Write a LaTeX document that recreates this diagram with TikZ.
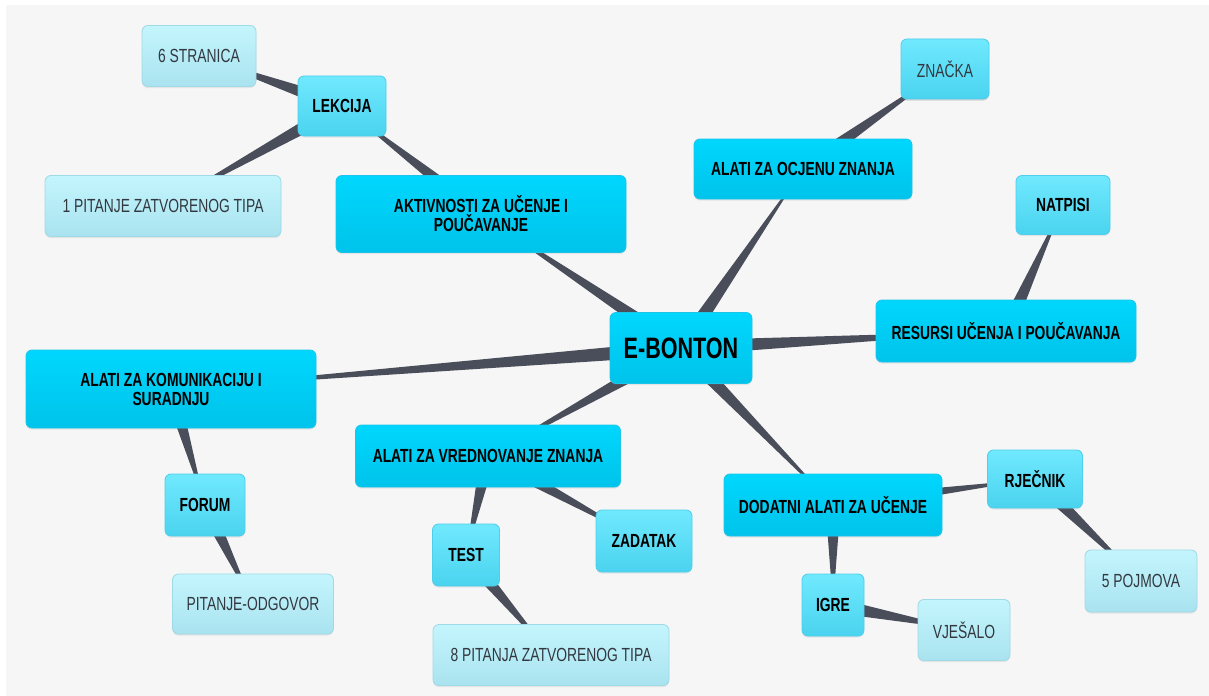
\documentclass[tikz,border=0pt]{standalone}
\usepackage{fontspec}
\setmainfont{Liberation Sans}[FakeStretch=0.73]
\usepackage{tikz}
\usetikzlibrary{
	backgrounds,									% pozadina i veze iza kutija
	calc,											% racun koordinata
	shadows,										% sjene kutija
}

\definecolor{hubtop}{HTML}{00D7FE}
\definecolor{hubbot}{HTML}{00C3EA}
\definecolor{hubline}{HTML}{1CC4EA}
\definecolor{midtop}{HTML}{70E9FE}
\definecolor{midbot}{HTML}{4AD3EF}
\definecolor{midline}{HTML}{4ECFEB}
\definecolor{paletop}{HTML}{C4F5FD}
\definecolor{palebot}{HTML}{A9E3EF}
\definecolor{paleline}{HTML}{9FDAE7}
\definecolor{leaftext}{HTML}{333840}
\definecolor{branchgray}{HTML}{4A4E5A}
\definecolor{canvas}{HTML}{F6F6F6}

\tikzset{
	mapbox/.style={rounded corners=0.15cm, line width=0.6pt, inner sep=0pt, align=center,
		drop shadow={opacity=0.15, shadow xshift=0pt, shadow yshift=-0.04cm}},
	sz/.style 2 args={minimum width=#1*0.025cm, minimum height=#2*0.025cm},
	hub/.style={mapbox, top color=hubtop, bottom color=hubbot, draw=hubline,
		font=\bfseries\fontsize{13.5}{13.5}\selectfont},
	topic/.style={mapbox, top color=midtop, bottom color=midbot, draw=midline,
		font=\bfseries\fontsize{13.5}{13.5}\selectfont},
	leaf/.style={mapbox, top color=paletop, bottom color=palebot, draw=paleline,
		text=leaftext, font=\fontsize{13.5}{13.5}\selectfont},
	branch/.style={fill=branchgray},
}

% klin od roditelja (debeli kraj) do djeteta (tanki kraj)
\newcommand{\branch}[2]{%
	\fill[branch] ($(#1.center)!0.19cm!90:(#2.center)$) -- ($(#1.center)!0.19cm!-90:(#2.center)$) -- (#2.center) -- cycle;}

\begin{document}
\begin{tikzpicture}[x=0.025cm, y=-0.025cm]
	\useasboundingbox (0,0) rectangle (1209,696);

	\node[hub, sz={142}{71}, font=\bfseries\fontsize{21}{22}\selectfont] (ebonton) at (681,348) {E-BONTON};

	\node[hub, sz={290}{77}] (aktivnosti) at (481,214) {AKTIVNOSTI ZA UČENJE I\\POUČAVANJE};
	\node[topic, sz={88}{60}] (lekcija) at (342,106) {LEKCIJA};
	\node[leaf, sz={114}{61}] (stranica) at (199,56) {6 STRANICA};
	\node[leaf, sz={236}{61}] (pitanje1) at (163,206) {1 PITANJE ZATVORENOG TIPA};

	\node[hub, sz={218}{60}] (ocjena) at (803,169) {ALATI ZA OCJENU ZNANJA};
	\node[leaf, sz={88}{60}, topic] (znacka) at (945,69) {\mdseries ZNAČKA};

	\node[hub, sz={260}{62}] (resursi) at (1006,331) {RESURSI UČENJA I POUČAVANJA};
	\node[topic, sz={94}{59}] (natpisi) at (1063,205) {NATPISI};

	\node[hub, sz={290}{78}] (komunikacija) at (171,389) {ALATI ZA KOMUNIKACIJU I\\SURADNJU};
	\node[topic, sz={80}{62}] (forum) at (205,505) {FORUM};
	\node[leaf, sz={161}{60}] (odgovor) at (253,604) {PITANJE-ODGOVOR};

	\node[hub, sz={265}{62}] (vrednovanje) at (488,456) {ALATI ZA VREDNOVANJE ZNANJA};
	\node[topic, sz={67}{62}] (test) at (466,555) {TEST};
	\node[topic, sz={96}{62}] (zadatak) at (644,541) {ZADATAK};
	\node[leaf, sz={236}{61}] (pitanja8) at (551,655) {8 PITANJA ZATVORENOG TIPA};

	\node[hub, sz={218}{62}] (dodatni) at (833,505) {DODATNI ALATI ZA UČENJE};
	\node[topic, sz={95}{58}] (rjecnik) at (1035,479) {RJEČNIK};
	\node[leaf, sz={112}{62}] (pojmova) at (1141,581) {5 POJMOVA};
	\node[topic, sz={62}{62}] (igre) at (833,605) {IGRE};
	\node[leaf, sz={92}{61}] (vjesalo) at (964,630) {VJEŠALO};

	\begin{scope}[on background layer]
		\fill[white] (0,0) rectangle (1209,696);
		\fill[canvas] (6,5) rectangle (1209,696);
		\branch{ebonton}{aktivnosti}
		\branch{aktivnosti}{lekcija}
		\branch{lekcija}{stranica}
		\branch{lekcija}{pitanje1}
		\branch{ebonton}{ocjena}
		\branch{ocjena}{znacka}
		\branch{ebonton}{resursi}
		\branch{resursi}{natpisi}
		\branch{ebonton}{komunikacija}
		\branch{komunikacija}{forum}
		\branch{forum}{odgovor}
		\branch{ebonton}{vrednovanje}
		\branch{vrednovanje}{test}
		\branch{vrednovanje}{zadatak}
		\branch{test}{pitanja8}
		\branch{ebonton}{dodatni}
		\branch{dodatni}{rjecnik}
		\branch{rjecnik}{pojmova}
		\branch{dodatni}{igre}
		\branch{igre}{vjesalo}
	\end{scope}
\end{tikzpicture}
\end{document}
